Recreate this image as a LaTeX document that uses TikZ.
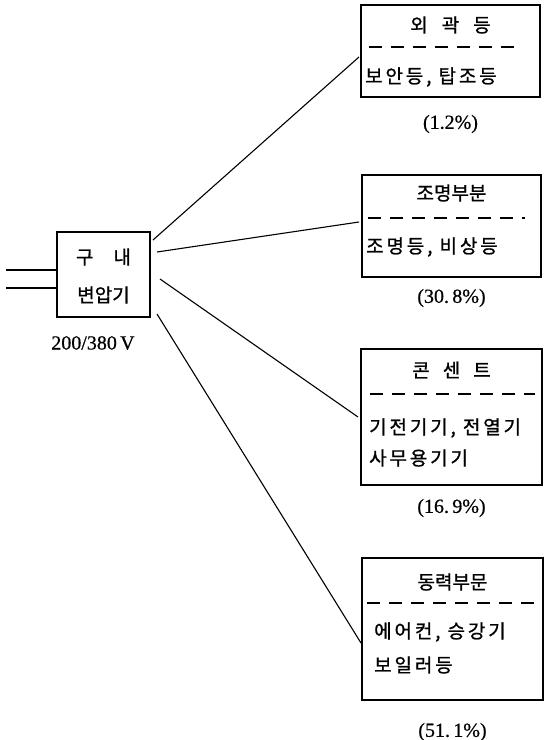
\documentclass[tikz,border=0pt]{standalone}
\usepackage{fontspec}
\newfontfamily\krt{Noto Sans CJK KR}[FakeBold=1]
\newfontfamily\krb{Noto Sans CJK KR}[LetterSpace=15,FakeBold=1]
\newfontfamily\numf{Liberation Serif}[FakeBold=0.6]
\begin{document}
\begin{tikzpicture}[x=1pt,y=-1pt,
  box/.style={draw, line width=1.5pt, inner sep=0pt},
  ttl/.style={font=\krt\fontsize{19}{22}\selectfont, inner sep=0pt},
  bdy/.style={font=\krb\fontsize{19}{22}\selectfont, inner sep=0pt, anchor=west},
  pct/.style={font=\numf\fontsize{20}{24}\selectfont, inner sep=0pt},
  sep/.style={line width=1.6pt, dash pattern=on 13pt off 9pt},
  conn/.style={line width=1.1pt}]
\useasboundingbox (0,0) rectangle (544,740);
\fill[white] (0,0) rectangle (544,740);

% transformer
\node[box, minimum width=93pt, minimum height=85pt] (tr) at (103.5,274.5) {};
\node[ttl] (trA) at (103.5,257) {구\hspace{20pt}내};
\node[ttl] (trB) at (103.5,295) {변압기};
\node[pct] (volt) at (93,343) {200/380\,V};
\coordinate (in1) at (6,270);
\coordinate (in2) at (6,288);
\draw[conn] (in1) -- (in1 -| tr.west);
\draw[conn] (in2) -- (in2 -| tr.west);

% box 1
\node[box, minimum width=179pt, minimum height=92pt] (b1) at (450.5,51) {};
\node[ttl] (b1t) at (450.5,25) {외\hspace{14pt}곽\hspace{14pt}등};
\draw[sep] (369,47) -- (522,47);
\node[bdy] (b1a) at (365,77) {보안등, 탑조등};
\node[pct] (p1) at (450.5,124) {(1.2\%)};

% box 2
\node[box, minimum width=179pt, minimum height=102pt] (b2) at (451.5,226) {};
\node[ttl] (b2t) at (451.5,193) {조명부분};
\draw[sep] (368,218) -- (525,218);
\node[bdy] (b2a) at (366,247) {조명등, 비상등};
\node[pct] (p2) at (451.5,298) {(30.\,8\%)};

% box 3
\node[box, minimum width=181pt, minimum height=136pt] (b3) at (451.5,417) {};
\node[ttl] (b3t) at (451.5,370) {콘\hspace{13pt}센\hspace{13pt}트};
\draw[sep] (370,394) -- (535,394);
\node[bdy] (b3a) at (369,428) {기전기기, 전열기};
\node[bdy] (b3b) at (369,458) {사무용기기};
\node[pct] (p3) at (451.5,508) {(16.\,9\%)};

% box 4
\node[box, minimum width=181pt, minimum height=142pt] (b4) at (452.5,629) {};
\node[ttl] (b4t) at (452.5,582) {동력부문};
\draw[sep] (367,603) -- (535,603);
\node[bdy] (b4a) at (374,632) {에어컨, 승강기};
\node[bdy] (b4b) at (374,665) {보일러등};
\node[pct] (p4) at (452.5,732) {(51.\,1\%)};

% connectors
\coordinate (s1) at (153,240); \coordinate (e1) at (359,57);
\coordinate (s2) at (157,252); \coordinate (e2) at (359,222);
\coordinate (s3) at (160,279); \coordinate (e3) at (358,417);
\coordinate (s4) at (157,314); \coordinate (e4) at (361,643);
\draw[conn] (s1) -- (e1);
\draw[conn] (s2) -- (e2);
\draw[conn] (s3) -- (e3);
\draw[conn] (s4) -- (e4);
\end{tikzpicture}
\end{document}
